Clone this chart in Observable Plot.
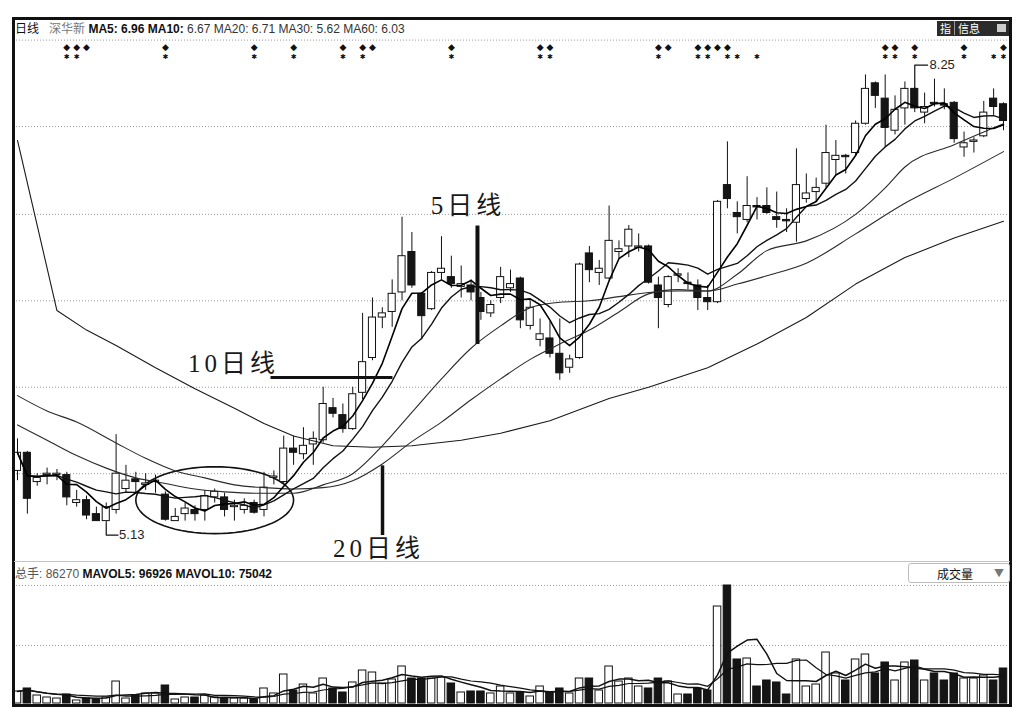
<!DOCTYPE html>
<html><head><meta charset="utf-8">
<script src="https://cdn.jsdelivr.net/npm/d3@7"></script>
<script src="https://cdn.jsdelivr.net/npm/@observablehq/plot@0.6"></script>
<style>
body{margin:0;background:#fff;}
#wrap{position:relative;width:1030px;height:726px;overflow:hidden;font-family:"Liberation Sans",Arial,sans-serif;}
#wrap svg{position:absolute;left:0;top:0;}
.hdr{position:absolute;font-size:12px;white-space:nowrap;color:#111;line-height:14px;}
</style></head><body><div id="wrap"></div>
<script>
// ---------- data ----------
const open = [
5.50,5.63,5.42,5.47,5.47,5.47,5.27,5.29,5.19,5.14,
5.22,5.37,5.44,5.40,5.42,5.33,5.14,5.19,5.22,5.22,
5.31,5.31,5.24,5.22,5.27,5.22,5.45,5.42,5.66,5.62,
5.69,5.72,5.95,5.90,5.80,6.06,6.31,6.60,6.64,6.78,
7.07,6.77,6.66,6.92,6.89,6.82,6.83,6.74,6.63,6.74,
6.81,6.88,6.54,6.44,6.45,6.34,6.24,6.31,7.06,6.92,
6.88,7.07,7.11,7.10,7.11,6.83,6.69,6.90,6.85,6.83,
6.74,6.71,7.55,7.35,7.30,7.40,7.40,7.32,7.30,7.28,
7.45,7.50,7.56,7.73,7.76,7.78,7.99,8.28,8.17,7.94,
8.10,8.24,8.07,8.14,8.13,8.14,7.82,7.86,7.90,8.17,
8.13];
const high = [
5.73,5.64,5.48,5.52,5.51,5.49,5.36,5.32,5.24,5.27,
5.76,5.54,5.49,5.48,5.47,5.35,5.23,5.27,5.25,5.36,
5.37,5.34,5.29,5.30,5.29,5.49,5.50,5.75,5.75,5.81,
5.78,6.10,6.02,5.98,6.10,6.63,6.74,6.67,6.87,7.32,
7.21,6.78,6.93,7.18,7.04,6.97,6.87,6.78,6.72,6.96,
6.94,6.89,6.72,6.59,6.57,6.59,6.33,6.99,7.11,7.01,
7.40,7.15,7.26,7.20,7.12,6.89,6.90,6.95,6.92,6.87,
6.83,7.44,7.86,7.43,7.61,7.46,7.53,7.50,7.38,7.81,
7.63,7.60,7.98,7.87,7.77,8.01,8.34,8.29,8.34,8.19,
8.29,8.25,8.21,8.31,8.24,8.15,7.93,7.89,8.15,8.24,
8.14];
const low = [
5.43,5.19,5.39,5.40,5.43,5.25,5.24,5.15,5.14,5.13,
5.19,5.34,5.34,5.36,5.34,5.14,5.14,5.14,5.14,5.14,
5.27,5.17,5.14,5.19,5.19,5.17,5.40,5.40,5.54,5.58,
5.54,5.70,5.88,5.77,5.79,6.01,6.29,6.52,6.53,6.72,
6.81,6.44,6.65,6.87,6.81,6.74,6.72,6.58,6.60,6.70,
6.78,6.52,6.51,6.39,6.31,6.15,6.20,6.30,6.85,6.83,
6.87,7.02,7.03,7.07,6.84,6.52,6.67,6.85,6.80,6.65,
6.65,6.70,7.38,7.20,7.28,7.30,7.34,7.24,7.21,7.14,
7.42,7.43,7.53,7.62,7.63,7.76,7.98,8.10,7.82,7.91,
7.98,8.07,7.99,8.11,8.09,7.85,7.75,7.78,7.89,8.05,
7.94];
const close = [
5.63,5.30,5.45,5.48,5.48,5.31,5.29,5.18,5.14,5.24,
5.48,5.43,5.42,5.41,5.43,5.15,5.17,5.23,5.19,5.32,
5.35,5.22,5.25,5.25,5.20,5.38,5.46,5.66,5.63,5.68,
5.73,5.98,5.91,5.80,6.05,6.28,6.60,6.63,6.77,7.04,
6.83,6.61,6.92,6.95,6.84,6.84,6.78,6.64,6.69,6.89,
6.84,6.58,6.67,6.48,6.34,6.20,6.30,6.98,6.94,6.95,
7.15,7.09,7.23,7.11,6.85,6.74,6.89,6.91,6.84,6.74,
6.71,7.43,7.45,7.32,7.40,7.39,7.35,7.30,7.29,7.55,
7.49,7.53,7.78,7.76,7.75,7.99,8.24,8.19,7.96,8.09,
8.24,8.10,8.11,8.13,8.12,7.88,7.85,7.87,8.07,8.11,
8.01];
const volume = [
29600,37000,19700,14800,12300,22200,7400,12300,9900,14800,
54200,12300,19700,24700,24700,44400,9900,14800,14800,19700,
14800,12300,12300,12300,9900,37000,24700,71500,32000,46800,
24700,61600,37000,27100,51800,81300,76400,49300,59200,91200,
61600,61600,61600,64100,49300,27100,29600,29600,24700,41900,
24700,27100,17300,41900,27100,37000,24700,61600,61600,32000,
91200,54200,61600,41900,37000,61600,54200,22200,22200,37000,
32000,239100,290900,108500,110900,41900,56700,51800,22200,108500,
41900,46800,125700,74000,56700,108500,120800,74000,101100,56700,
101100,106000,56700,74000,56700,74000,61600,61600,69000,56700,
86270];

// longer moving averages at sample candles
const ma20Idx = [0,3,6,9,12,15,18,21,24,28,31,34,37,40,43,46,49,52,55,58,61,64,67,70,73,76,80,85,88,90,95,100];
const ma20Val = [5.83,5.72,5.61,5.52,5.45,5.41,5.37,5.35,5.34,5.34,5.40,5.48,5.68,5.92,6.16,6.38,6.54,6.67,6.71,6.72,6.75,6.78,6.79,6.79,6.91,7.08,7.15,7.34,7.53,7.68,7.84,7.99];
const ma30Idx = [0,3,6,10,13,16,19,22,25,28,31,34,37,40,43,46,49,52,55,58,61,64,67,70,73,76,80,85,90,95,100];
const ma30Val = [6.04,5.93,5.85,5.70,5.59,5.50,5.45,5.40,5.38,5.37,5.38,5.43,5.55,5.71,5.85,6.01,6.16,6.30,6.41,6.51,6.64,6.77,6.80,6.79,6.84,6.90,6.99,7.20,7.42,7.60,7.79];
const ma60Idx = [0,4,7,10,14,18,22,25,28,32,36,40,45,49,54,60,64,70,75,80,85,90,95,100];
const ma60Val = [7.87,6.65,6.51,6.40,6.24,6.09,5.95,5.84,5.75,5.68,5.67,5.68,5.72,5.77,5.86,6.02,6.10,6.24,6.41,6.60,6.84,7.03,7.17,7.29];

// signal markers (candle indices)
const diamondIdx = [5,6,7,15,24,28,33,35,36,44,53,54,65,66,69,70,71,72,88,89,91,96,100];
const starIdx = [5,6,15,24,28,33,35,44,53,54,65,69,70,72,73,75,88,89,91,96,99,100];

// reference levels
const priceGrid = [8.59,7.97,7.34,6.72,6.10,5.48];
const volGrid = [143000,291000];

// ---------- build ----------
const candles = open.map((o,i)=>({i, open:o, high:high[i], low:low[i], close:close[i], volume:volume[i], up: close[i] >= o}));
const ma20 = ma20Idx.map((i,k)=>({i, v:ma20Val[k]}));
const ma30 = ma30Idx.map((i,k)=>({i, v:ma30Val[k]}));
const ma60 = ma60Idx.map((i,k)=>({i, v:ma60Val[k]}));

// annotations
const ell = {cx:20, cy:5.29, rx:8, ry:0.24};
const ellipsePts = d3.range(0,73).map(k=>{const t=k/72*2*Math.PI; return {i: ell.cx+ell.rx*Math.cos(t), p: ell.cy+ell.ry*Math.sin(t)};});
const bigLabels = [{t:"10日线", i:17.3, p:6.27},{t:"5日线", i:41.9, p:7.40},{t:"20日线", i:32.0, p:4.94}];
const arrowLow = [{i:9,p:5.13},{i:9,p:5.04},{i:10.2,p:5.04}];
const arrowHigh = [{i:91,p:8.25},{i:91,p:8.41},{i:92.3,p:8.41}];
const extremeLabels = [{t:"5.13", i:10.3, p:5.04},{t:"8.25", i:92.5, p:8.41}];

const W=1030, H=726;
const common = {width:W, height:H, marginLeft:13, marginRight:20, marginTop:18, marginBottom:21,
  x:{domain:[0,100], range:[17,1003], axis:null},
  style:{background:"transparent", overflow:"visible", maxWidth:"none"}};
const ink = "#111";
const bw = 0.36;

const pricePlot = Plot.plot({...common,
  y:{domain:[5.13,8.25], range:[522,87], axis:null},
  marks:[
    Plot.ruleY(priceGrid, {stroke:"#9a9a9a", strokeDasharray:"1,2"}),
    Plot.line(ellipsePts, {x:"i", y:"p", stroke:ink, strokeWidth:1.6}),
    Plot.ruleX(candles, {x:"i", y1:"low", y2:"high", stroke:ink, strokeWidth:1}),
    Plot.rect(candles, {x1:d=>d.i-bw, x2:d=>d.i+bw, y1:"open", y2:"close", fill:d=>d.up?"#ffffff":"#151515", stroke:ink, strokeWidth:1}),
    Plot.line(ma60, {x:"i", y:"v", curve:"linear", stroke:"#1a1a1a", strokeWidth:1.1}),
    Plot.line(ma30, {x:"i", y:"v", curve:"monotone-x", stroke:"#2a2a2a", strokeWidth:1.1}),
    Plot.line(ma20, {x:"i", y:"v", curve:"monotone-x", stroke:"#2a2a2a", strokeWidth:1.1}),
    Plot.lineY(candles, Plot.windowY({k:10, anchor:"end"}, {x:"i", y:"close", stroke:"#111", strokeWidth:1.4})),
    Plot.lineY(candles, Plot.windowY({k:5, anchor:"end"}, {x:"i", y:"close", stroke:"#000", strokeWidth:1.6})),
    Plot.text(diamondIdx, {x:d=>d, frameAnchor:"top", dy:25, text:()=>"◆", fontSize:9, fill:ink, fontFamily:"DejaVu Sans"}),
    Plot.text(starIdx, {x:d=>d, frameAnchor:"top", dy:36, text:()=>"✱", fontSize:7, fill:ink, fontFamily:"DejaVu Sans"}),
    Plot.link([0], {x1:()=>25.66, x2:()=>38.03, y1:()=>6.17, y2:()=>6.17, stroke:ink, strokeWidth:3}),
    Plot.link([0], {x1:()=>46.65, x2:()=>46.65, y1:()=>7.26, y2:()=>6.41, stroke:ink, strokeWidth:4}),
    Plot.link([0], {x1:()=>37.02, x2:()=>37.02, y1:()=>5.54, y2:()=>5.04, stroke:ink, strokeWidth:3.5}),
    Plot.line(arrowLow, {x:"i", y:"p", stroke:ink, strokeWidth:1.2}),
    Plot.line(arrowHigh, {x:"i", y:"p", stroke:ink, strokeWidth:1.2}),
    Plot.text(extremeLabels, {x:"i", y:"p", text:"t", textAnchor:"start", fontSize:13, fill:"#222", fontFamily:"Liberation Sans"}),
    Plot.text(bigLabels, {x:"i", y:"p", text:"t", textAnchor:"start", fontSize:25, fill:"#1a1a1a", fontFamily:"'Liberation Serif','Noto Sans CJK SC',serif"})
  ]});

const volPlot = Plot.plot({...common,
  y:{domain:[0,290900], range:[703,585], axis:null},
  marks:[
    Plot.ruleY(volGrid, {stroke:"#9a9a9a", strokeDasharray:"1,2"}),
    Plot.rect(candles, {x1:d=>d.i-0.38, x2:d=>d.i+0.38, y1:()=>0, y2:"volume", fill:d=>d.up?"#ffffff":"#151515", stroke:ink, strokeWidth:1}),
    Plot.lineY(candles, Plot.windowY({k:10, anchor:"end"}, {x:"i", y:"volume", stroke:"#111", strokeWidth:1.2})),
    Plot.lineY(candles, Plot.windowY({k:5, anchor:"end"}, {x:"i", y:"volume", stroke:"#111", strokeWidth:1.5})),
    Plot.frame({stroke:"#111", strokeWidth:3})
  ]});

const wrap = document.getElementById("wrap");
wrap.appendChild(pricePlot);
wrap.appendChild(volPlot);
// letter spacing for the hand-written style labels
pricePlot.querySelectorAll("text").forEach(t=>{ if (t.textContent.includes("日线")) t.setAttribute("letter-spacing","4"); });

// panel separator + header texts
wrap.insertAdjacentHTML("beforeend", `
<div style="position:absolute;left:14px;top:561px;width:996px;height:1px;background:#c4c4c4"></div>
<div class="hdr" style="left:15px;top:21px;"><span style="font-family:'Noto Sans CJK SC';">日线</span>&nbsp;&nbsp;&nbsp;<span style="color:#777;font-family:'Noto Sans CJK SC';">深华新</span> <b>MA5: 6.96 MA10:</b> <span style="color:#333">6.67 MA20: 6.71 MA30: 5.62 MA60: 6.03</span></div>
<div class="hdr" style="left:937px;top:21px;height:15px;width:72px;background:#2b2b2b;color:#fff;font-size:11px;font-family:'Noto Sans CJK SC';">
  <span style="position:absolute;left:3px;top:0">指</span><span style="position:absolute;left:17px;top:0;border-left:1px solid #999;padding-left:3px">信息</span>
  <span style="position:absolute;right:3px;top:3px;width:9px;height:8px;background:#ccc"></span></div>
<div class="hdr" style="left:15px;top:566px;"><span style="color:#555;font-family:'Noto Sans CJK SC';">总手</span><span style="color:#555">: 86270</span> <b>MAVOL5: 96926 MAVOL10: 75042</b></div>
<div style="position:absolute;left:908px;top:563px;width:100px;height:18px;border:1px solid #bdbdbd;border-radius:3px;background:#fff;font-size:12px;font-family:'Noto Sans CJK SC';">
  <span style="position:absolute;left:28px;top:1px;color:#111">成交量</span><span style="position:absolute;right:5px;top:1px;color:#777;font-size:10px">▼</span></div>
`);
</script></body></html>
